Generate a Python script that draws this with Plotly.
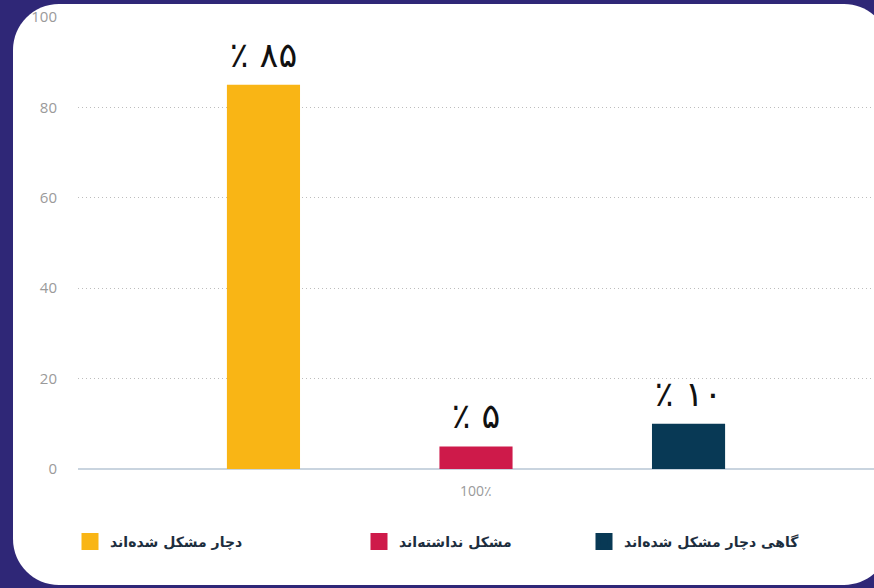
import plotly.graph_objects as go

# ---- data ----
category = ["100٪"]
series_names = ["دچار مشکل شده‌اند", "مشکل نداشته‌اند", "گاهی دچار مشکل شده‌اند"]
series_values = [85, 5, 10]
series_colors = ["#F9B515", "#CE1A4A", "#083955"]
y_ticks = [0, 20, 40, 60, 80, 100]

W, H = 874, 588
L, R, T, B = 78, 0, 17, 119
pw, ph = W - L - R, H - T - B

def fa_digits(n):
    return str(n).translate(str.maketrans("0123456789", "۰۱۲۳۴۵۶۷۸۹"))

def px2x(px):
    return (px - L) / pw

def py2y(py):
    return (H - B - py) / ph

def rounded_rect(x0, y0, x1, y1, r):
    k = 0.5523 * r
    def P(x, y):
        return f"{px2x(x):.5f},{py2y(y):.5f}"
    d = f"M {P(x0 + r, y0)} L {P(x1 - r, y0)} "
    d += f"C {P(x1 - r + k, y0)} {P(x1, y0 + r - k)} {P(x1, y0 + r)} "
    d += f"L {P(x1, y1 - r)} "
    d += f"C {P(x1, y1 - r + k)} {P(x1 - r + k, y1)} {P(x1 - r, y1)} "
    d += f"L {P(x0 + r, y1)} "
    d += f"C {P(x0 + r - k, y1)} {P(x0, y1 - r + k)} {P(x0, y1 - r)} "
    d += f"L {P(x0, y0 + r)} "
    d += f"C {P(x0, y0 + r - k)} {P(x0 + r - k, y0)} {P(x0 + r, y0)} Z"
    return d

fig = go.Figure()
legend_ids = ["legend", "legend2", "legend3"]
for i, (name, val, col, lg) in enumerate(zip(series_names, series_values, series_colors, legend_ids)):
    label = "<span style='font-size:35px'>٪ " + fa_digits(val) + "</span><br>\u00a0"
    fig.add_trace(go.Bar(
        x=category, y=[val], name=name,
        marker=dict(color=col, line=dict(width=0)),
        text=[label],
        textposition="outside",
        textfont=dict(size=10, color="#111111", family="DejaVu Sans"),
        constraintext="none",
        cliponaxis=True,
        offsetgroup=str(i),
        showlegend=False,
        legendgroup=str(i),
    ))
    # legend entry for the same series (larger swatch, no bar drawn)
    fig.add_trace(go.Bar(
        x=category, y=[None], name=name,
        marker=dict(color=col, line=dict(width=5, color=col)),
        offsetgroup=str(i),
        legendgroup=str(i),
        hoverinfo="skip",
        legend=lg,
    ))

legend_common = dict(
    orientation="h", yanchor="middle", xanchor="left",
    font=dict(size=14, color="#1D2E3E", family="DejaVu Sans", weight="bold"),
    bgcolor="rgba(0,0,0,0)", itemwidth=30,
)
legend_x_px = [70, 359, 584]
layout_legends = {}
for lg, xp in zip(legend_ids, legend_x_px):
    layout_legends[lg] = dict(legend_common, x=px2x(xp), y=py2y(542))

fig.update_layout(
    width=W, height=H,
    margin=dict(l=L, r=R, t=T, b=B, autoexpand=False),
    paper_bgcolor="#2F2777",
    plot_bgcolor="rgba(0,0,0,0)",
    barmode="group",
    bargap=0.199,
    bargroupgap=0.656,
    showlegend=True,
    shapes=[dict(type="path", xref="paper", yref="paper",
                 path=rounded_rect(13, 4, 890, 585, 46),
                 fillcolor="#FFFFFF", line=dict(width=0), layer="below")],
    xaxis=dict(
        showgrid=False, showline=False, zeroline=False, automargin=False,
        tickfont=dict(size=14, color="#9A9A9A", family="Open Sans"),
        ticklabelstandoff=12,
    ),
    yaxis=dict(
        range=[0, 100], tickvals=y_ticks, automargin=False,
        showgrid=True, gridcolor="#BDBDBD", griddash="1px,3px", gridwidth=1,
        zeroline=True, zerolinecolor="#C9D4DF", zerolinewidth=1.5,
        showline=False,
        tickfont=dict(size=15, color="#9A9A9A", family="Open Sans"),
        ticklabelstandoff=20,
    ),
    **layout_legends,
)

fig.write_html(
    "out.html",
    config={"displayModeBar": False},
    post_script="document.body.style.margin='0';document.body.style.background='#2F2777';",
)
